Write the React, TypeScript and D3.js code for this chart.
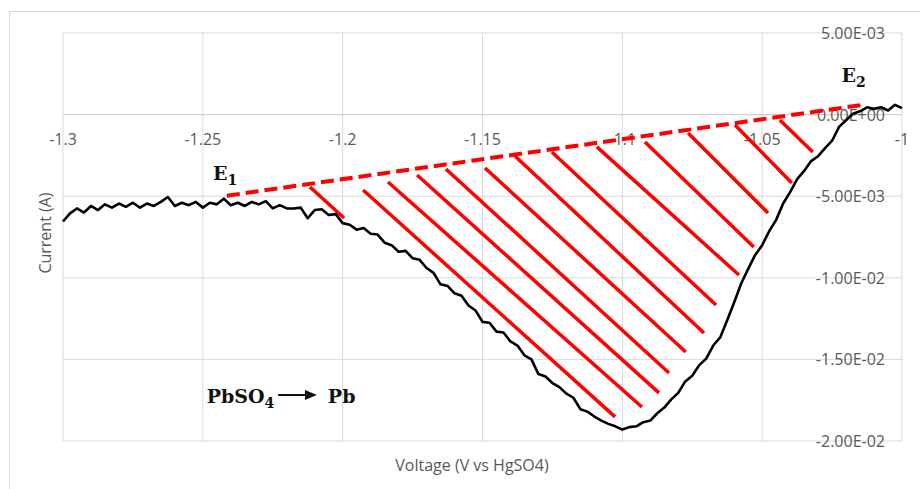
import React from "react";
import * as d3 from "d3";

// Sweep voltage (V vs HgSO4) in 2.5 mV steps
const sweepVoltage = [
  -1.3, -1.2975, -1.295, -1.2925, -1.29, -1.2875, -1.285, -1.2825, -1.28, -1.2775,
  -1.275, -1.2725, -1.27, -1.2675, -1.265, -1.2625, -1.26, -1.2575, -1.255, -1.2525,
  -1.25, -1.2475, -1.245, -1.2425, -1.24, -1.2375, -1.235, -1.2325, -1.23, -1.2275,
  -1.225, -1.2225, -1.22, -1.2175, -1.215, -1.2125, -1.21, -1.2075, -1.205, -1.2025,
  -1.2, -1.1975, -1.195, -1.1925, -1.19, -1.1875, -1.185, -1.1825, -1.18, -1.1775,
  -1.175, -1.1725, -1.17, -1.1675, -1.165, -1.1625, -1.16, -1.1575, -1.155, -1.1525,
  -1.15, -1.1475, -1.145, -1.1425, -1.14, -1.1375, -1.135, -1.1325, -1.13, -1.1275,
  -1.125, -1.1225, -1.12, -1.1175, -1.115, -1.1125, -1.11, -1.1075, -1.105, -1.1025,
  -1.1, -1.0975, -1.095, -1.0925, -1.09, -1.0875, -1.085, -1.0825, -1.08, -1.0775,
  -1.075, -1.0725, -1.07, -1.0675, -1.065, -1.0625, -1.06, -1.0575, -1.055, -1.0525,
  -1.05, -1.0475, -1.045, -1.0425, -1.04, -1.0375, -1.035, -1.0325, -1.03, -1.0275,
  -1.025, -1.0225, -1.02, -1.0175, -1.015, -1.0125, -1.01, -1.0075, -1.005, -1.0025,
  -1.0,
];

// Current in mA at each voltage above
const sweepCurrentMa = [
  -6.55, -6.05, -5.75, -6.0, -5.6, -5.85, -5.5, -5.7, -5.45, -5.65,
  -5.4, -5.7, -5.45, -5.6, -5.35, -5.05, -5.6, -5.4, -5.55, -5.35,
  -5.7, -5.4, -5.5, -5.15, -5.55, -5.4, -5.6, -5.35, -5.5, -5.3,
  -5.75, -5.55, -5.75, -5.75, -5.7, -6.35, -5.85, -5.8, -6.15, -6.1,
  -6.65, -6.75, -7.05, -6.95, -7.3, -7.35, -7.85, -8.0, -8.4, -8.35,
  -8.8, -8.9, -9.4, -9.7, -10.4, -10.5, -10.95, -11.1, -11.7, -12.0,
  -12.7, -12.75, -13.3, -13.35, -13.9, -14.15, -14.75, -15.0, -15.9, -16.05,
  -16.45, -16.7, -17.1, -17.35, -18.05, -18.2, -18.5, -18.75, -18.95, -19.1,
  -19.3, -19.15, -19.1, -18.85, -18.75, -18.3, -17.95, -17.45, -17.05, -16.35,
  -16.0, -15.35, -14.95, -14.15, -13.65, -12.6, -11.5, -10.35, -9.45, -8.6,
  -8.0, -7.15, -6.45, -5.45, -4.75, -3.95, -3.45, -2.85, -2.55, -2.05,
  -1.6, -0.75, -0.35, 0.05, 0.2, 0.45, 0.35, 0.45, 0.25, 0.6,
  0.4,
];

const xTicks = [-1.3, -1.25, -1.2, -1.15, -1.1, -1.05, -1.0];
const yTicks = [0.005, 0, -0.005, -0.01, -0.015, -0.02];

// dashed baseline E1 -> E2 (V, mA)
const baselineV = [-1.2414, -1.0143];
const baselineMa = [-4.97, 0.59];

// hatch segments [startV, startMa, endV, endMa]
const hatchSegments = [
  [-1.2117, -4.44, -1.1995, -6.34],
  [-1.1927, -4.62, -1.1026, -18.52],
  [-1.1838, -4.13, -1.093, -17.92],
  [-1.1734, -3.7, -1.0869, -17.05],
  [-1.1631, -3.33, -1.0833, -15.83],
  [-1.1491, -3.27, -1.0773, -14.55],
  [-1.1384, -2.54, -1.0708, -13.38],
  [-1.1252, -2.29, -1.0665, -11.67],
  [-1.1091, -1.98, -1.0583, -9.83],
  [-1.0919, -1.68, -1.053, -8.11],
  [-1.0765, -1.13, -1.0479, -6.03],
  [-1.0597, -0.64, -1.0394, -4.19],
  [-1.0437, -0.33, -1.0319, -2.29],
];

// label anchors (V, mA)
const e1Pos = [-1.2464, -4.0];
const e2Pos = [-1.0216, 2.02];
const reactionPos = [-1.2486, -17.69];
const arrowV = [-1.2231, -1.2092];
const arrowMa = -17.18;
const productV = -1.2053;

const W = 920;
const H = 489;
const grey = "#595959";
const gridColor = "#d9d9d9";
const uiFont = "'Open Sans', 'Liberation Sans', sans-serif";
const mathFont = "'DejaVu Serif', 'Liberation Serif', serif";

const fmtExp = (v: number) => {
  const [m, e] = v.toExponential(2).split("e");
  const n = parseInt(e, 10);
  const sign = n < 0 ? "-" : "+";
  return `${m}E${sign}${String(Math.abs(n)).padStart(2, "0")}`;
};

const App = () => {
  const x = d3.scaleLinear().domain([-1.3, -1.0]).range([63, 902]);
  const y = d3.scaleLinear().domain([-0.02, 0.005]).range([441, 33]);
  const ma = (v: number) => y(v * 1e-3);

  const pts = sweepVoltage.map((v, i) => [v, sweepCurrentMa[i]] as [number, number]);
  const line = d3
    .line<[number, number]>()
    .x((d) => x(d[0]))
    .y((d) => ma(d[1]));

  const y0 = y(0);
  const arrowY = ma(arrowMa);
  const ax1 = x(arrowV[0]);
  const ax2 = x(arrowV[1]);

  return (
    <svg
      width={W}
      height={H}
      style={{ position: "absolute", left: 0, top: 0, background: "#fff" }}
    >
      <rect x={0} y={0} width={W} height={H} fill="#fff" />
      <rect x={9.5} y={11.5} width={W} height={H} fill="none" stroke={gridColor} strokeWidth={1} />

      {/* gridlines */}
      {yTicks.map((t) => (
        <line key={"gy" + t} x1={x(-1.3)} x2={x(-1.0)} y1={y(t)} y2={y(t)} stroke={gridColor} strokeWidth={1} />
      ))}
      {xTicks.map((t) => (
        <line key={"gx" + t} x1={x(t)} x2={x(t)} y1={y(0.005)} y2={y(-0.02)} stroke={gridColor} strokeWidth={1} />
      ))}
      <line x1={x(-1.3)} x2={x(-1.0)} y1={y0} y2={y0} stroke="#cfcfcf" strokeWidth={1} />

      {/* x tick labels */}
      {xTicks.map((t) => (
        <text
          key={"tx" + t}
          x={x(t)}
          y={y0 + 30}
          textAnchor="middle"
          fontFamily={uiFont}
          fontSize={16}
          fill={grey}
        >
          {String(+t.toFixed(2))}
        </text>
      ))}

      {/* y tick labels */}
      {yTicks.map((t) => (
        <text
          key={"ty" + t}
          x={x(-1.0) - 17}
          y={y(t) + 6}
          textAnchor="end"
          fontFamily={uiFont}
          fontSize={16}
          fill={grey}
        >
          {fmtExp(t)}
        </text>
      ))}

      {/* axis titles */}
      <text
        transform={`translate(51, ${(y(0.005) + y(-0.02)) / 2 - 4}) rotate(-90)`}
        textAnchor="middle"
        fontFamily={uiFont}
        fontSize={16}
        fill={grey}
      >
        Current (A)
      </text>
      <text x={472} y={471} textAnchor="middle" fontFamily={uiFont} fontSize={16} fill={grey}>
        Voltage (V vs HgSO4)
      </text>

      {/* hatch */}
      {hatchSegments.map((s, i) => (
        <line
          key={"h" + i}
          x1={x(s[0])}
          y1={ma(s[1])}
          x2={x(s[2])}
          y2={ma(s[3])}
          stroke="#ff0000"
          strokeWidth={3.5}
        />
      ))}

      {/* measured curve */}
      <path d={line(pts) || ""} fill="none" stroke="#000" strokeWidth={2.6} strokeLinejoin="round" />

      {/* baseline */}
      <line
        x1={x(baselineV[0])}
        y1={ma(baselineMa[0])}
        x2={x(baselineV[1])}
        y2={ma(baselineMa[1])}
        stroke="#ff0000"
        strokeWidth={4}
        strokeDasharray="13 6"
      />

      {/* labels */}
      <text x={x(e1Pos[0])} y={ma(e1Pos[1])} fontFamily={mathFont} fontWeight="bold" fontSize={19} fill="#111">
        E<tspan fontSize={14} dy={5}>1</tspan>
      </text>
      <text x={x(e2Pos[0])} y={ma(e2Pos[1])} fontFamily={mathFont} fontWeight="bold" fontSize={19} fill="#111">
        E<tspan fontSize={14} dy={5}>2</tspan>
      </text>
      <text x={x(reactionPos[0])} y={ma(reactionPos[1])} fontFamily={mathFont} fontWeight="bold" fontSize={19} fill="#111">
        PbSO<tspan fontSize={14} dy={5}>4</tspan>
      </text>
      <line x1={ax1} x2={ax2 - 10} y1={arrowY} y2={arrowY} stroke="#111" strokeWidth={2} />
      <polygon points={`${ax2},${arrowY} ${ax2 - 12},${arrowY - 5} ${ax2 - 12},${arrowY + 5}`} fill="#111" />
      <text x={x(productV)} y={ma(reactionPos[1])} fontFamily={mathFont} fontWeight="bold" fontSize={19} fill="#111">
        Pb
      </text>
    </svg>
  );
};

export default App;
